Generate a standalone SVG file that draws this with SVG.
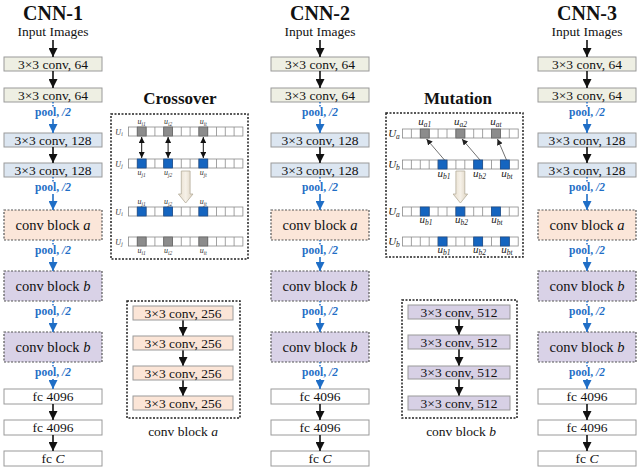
<svg xmlns="http://www.w3.org/2000/svg" width="640" height="468" viewBox="0 0 640 468" font-family="'Liberation Serif','Times New Roman',serif">
<defs>
<style>
text{font-family:"Liberation Serif","Times New Roman",serif;fill:#111}
.title{font-size:20px;font-weight:bold;text-anchor:middle}
.sub{font-size:17px;font-weight:bold;text-anchor:middle}
.lbl{font-size:13.5px;text-anchor:middle}
.blk{font-size:14.5px;text-anchor:middle}
.pool{font-size:11.5px;font-weight:bold;fill:#1f6ec6;text-anchor:middle}
.c64{fill:#eeefe3;stroke:#9a9a9a;stroke-width:1}
.c128{fill:#dce6f1;stroke:#9a9a9a;stroke-width:1}
.fc{fill:#ffffff;stroke:#9a9a9a;stroke-width:1}
.ba{fill:#fbe6d9;stroke:#555;stroke-width:1.2;stroke-dasharray:2 1.5}
.bb{fill:#d9d2e7;stroke:#555;stroke-width:1.2;stroke-dasharray:2 1.5}
.i256{fill:#fbe5d7;stroke:#9a9a9a;stroke-width:1}
.i512{fill:#d7d0e5;stroke:#9a9a9a;stroke-width:1}
.outer{fill:none;stroke:#222;stroke-width:1.5;stroke-dasharray:2 1.5}
.ar{stroke:#111;stroke-width:1.6;fill:none}
.br{stroke:#1f6ec6;stroke-width:1.6;fill:none}
.bd{stroke:#1f6ec6;stroke-width:1.5;stroke-dasharray:1.5 1.5;fill:none}
.cell{fill:#fff;stroke:#8a8a8a;stroke-width:0.8}
.g{fill:#8c8c8c;stroke:#666;stroke-width:0.8}
.b{fill:#1565c0;stroke:#1d4f8f;stroke-width:0.8}
.sm{font-size:8px;font-style:italic;text-anchor:middle;fill:#333}
.mm{font-size:11px;font-style:italic;text-anchor:middle;fill:#222}
.big{fill:url(#gb);stroke:#b5ad9c;stroke-width:0.8}
</style>
<marker id="ah" viewBox="0 0 10 10" refX="10" refY="5" markerWidth="9" markerHeight="9" markerUnits="userSpaceOnUse" orient="auto"><path d="M0,0 L10,5 L0,10 z" fill="#111"/></marker>
<marker id="bh" viewBox="0 0 10 10" refX="10" refY="5" markerWidth="9" markerHeight="9" markerUnits="userSpaceOnUse" orient="auto"><path d="M0,0 L10,5 L0,10 z" fill="#1f6ec6"/></marker>
<marker id="sh" viewBox="0 0 10 10" refX="10" refY="5" markerWidth="6" markerHeight="6" markerUnits="userSpaceOnUse" orient="auto-start-reverse"><path d="M0,0 L10,5 L0,10 z" fill="#111"/></marker>
<marker id="th" viewBox="0 0 10 10" refX="10" refY="5" markerWidth="6" markerHeight="6" markerUnits="userSpaceOnUse" orient="auto"><path d="M0,0 L10,5 L0,10 z" fill="#222"/></marker>
<linearGradient id="gb" x1="0" y1="0" x2="1" y2="0"><stop offset="0" stop-color="#e6dccb"/><stop offset="0.5" stop-color="#f6f1e8"/><stop offset="1" stop-color="#ddd2bf"/></linearGradient>
</defs>

<!-- CNN-1 -->
<g id="cnn1">
<text class="title" x="53" y="20">CNN-1</text>
<text class="lbl" x="53" y="36">Input Images</text>
<g id="cnn1-b1"><rect class="c64" x="4" y="57" width="98" height="14"/><text class="lbl" x="53" y="68.5">3×3 conv, 64</text></g>
<g id="cnn1-b2"><rect class="c64" x="4" y="88" width="98" height="14"/><text class="lbl" x="53" y="99.5">3×3 conv, 64</text></g>
<g id="cnn1-b3"><rect class="c128" x="4" y="133" width="98" height="14"/><text class="lbl" x="53" y="144.5">3×3 conv, 128</text></g>
<g id="cnn1-b4"><rect class="c128" x="4" y="163" width="98" height="14"/><text class="lbl" x="53" y="174.5">3×3 conv, 128</text></g>
<g id="cnn1-b5"><rect class="ba" x="4" y="210" width="98" height="30"/><text class="blk" x="53" y="229.5">conv block <tspan font-style="italic">a</tspan></text></g>
<g id="cnn1-b6"><rect class="bb" x="4" y="271" width="98" height="30"/><text class="blk" x="53" y="290.5">conv block <tspan font-style="italic">b</tspan></text></g>
<g id="cnn1-b7"><rect class="bb" x="4" y="332" width="98" height="30"/><text class="blk" x="53" y="351.5">conv block <tspan font-style="italic">b</tspan></text></g>
<g id="cnn1-b8"><rect class="fc" x="4" y="389" width="98" height="15"/><text class="lbl" x="53" y="400.5">fc 4096</text></g>
<g id="cnn1-b9"><rect class="fc" x="4" y="420" width="98" height="15"/><text class="lbl" x="53" y="431.5">fc 4096</text></g>
<g id="cnn1-b10"><rect class="fc" x="4" y="451" width="98" height="15"/><text class="lbl" x="53" y="462.5">fc <tspan font-style="italic">C</tspan></text></g>
</g>

<!-- CNN-2 -->
<g id="cnn2">
<text class="title" x="320" y="20">CNN-2</text>
<text class="lbl" x="320" y="36">Input Images</text>
<g id="cnn2-b1"><rect class="c64" x="271" y="57" width="98" height="14"/><text class="lbl" x="320" y="68.5">3×3 conv, 64</text></g>
<g id="cnn2-b2"><rect class="c64" x="271" y="88" width="98" height="14"/><text class="lbl" x="320" y="99.5">3×3 conv, 64</text></g>
<g id="cnn2-b3"><rect class="c128" x="271" y="133" width="98" height="14"/><text class="lbl" x="320" y="144.5">3×3 conv, 128</text></g>
<g id="cnn2-b4"><rect class="c128" x="271" y="163" width="98" height="14"/><text class="lbl" x="320" y="174.5">3×3 conv, 128</text></g>
<g id="cnn2-b5"><rect class="ba" x="271" y="210" width="98" height="30"/><text class="blk" x="320" y="229.5">conv block <tspan font-style="italic">a</tspan></text></g>
<g id="cnn2-b6"><rect class="bb" x="271" y="271" width="98" height="30"/><text class="blk" x="320" y="290.5">conv block <tspan font-style="italic">b</tspan></text></g>
<g id="cnn2-b7"><rect class="bb" x="271" y="332" width="98" height="30"/><text class="blk" x="320" y="351.5">conv block <tspan font-style="italic">b</tspan></text></g>
<g id="cnn2-b8"><rect class="fc" x="271" y="389" width="98" height="15"/><text class="lbl" x="320" y="400.5">fc 4096</text></g>
<g id="cnn2-b9"><rect class="fc" x="271" y="420" width="98" height="15"/><text class="lbl" x="320" y="431.5">fc 4096</text></g>
<g id="cnn2-b10"><rect class="fc" x="271" y="451" width="98" height="15"/><text class="lbl" x="320" y="462.5">fc <tspan font-style="italic">C</tspan></text></g>
</g>

<!-- CNN-3 -->
<g id="cnn3">
<text class="title" x="587" y="20">CNN-3</text>
<text class="lbl" x="587" y="36">Input Images</text>
<g id="cnn3-b1"><rect class="c64" x="538" y="57" width="98" height="14"/><text class="lbl" x="587" y="68.5">3×3 conv, 64</text></g>
<g id="cnn3-b2"><rect class="c64" x="538" y="88" width="98" height="14"/><text class="lbl" x="587" y="99.5">3×3 conv, 64</text></g>
<g id="cnn3-b3"><rect class="c128" x="538" y="133" width="98" height="14"/><text class="lbl" x="587" y="144.5">3×3 conv, 128</text></g>
<g id="cnn3-b4"><rect class="c128" x="538" y="163" width="98" height="14"/><text class="lbl" x="587" y="174.5">3×3 conv, 128</text></g>
<g id="cnn3-b5"><rect class="ba" x="538" y="210" width="98" height="30"/><text class="blk" x="587" y="229.5">conv block <tspan font-style="italic">a</tspan></text></g>
<g id="cnn3-b6"><rect class="bb" x="538" y="271" width="98" height="30"/><text class="blk" x="587" y="290.5">conv block <tspan font-style="italic">b</tspan></text></g>
<g id="cnn3-b7"><rect class="bb" x="538" y="332" width="98" height="30"/><text class="blk" x="587" y="351.5">conv block <tspan font-style="italic">b</tspan></text></g>
<g id="cnn3-b8"><rect class="fc" x="538" y="389" width="98" height="15"/><text class="lbl" x="587" y="400.5">fc 4096</text></g>
<g id="cnn3-b9"><rect class="fc" x="538" y="420" width="98" height="15"/><text class="lbl" x="587" y="431.5">fc 4096</text></g>
<g id="cnn3-b10"><rect class="fc" x="538" y="451" width="98" height="15"/><text class="lbl" x="587" y="462.5">fc <tspan font-style="italic">C</tspan></text></g>
</g>

<!-- pool labels -->
<g id="pools">
<text class="pool" x="53" y="116">pool, <tspan font-style="italic">/2</tspan></text>
<text class="pool" x="53" y="191">pool, <tspan font-style="italic">/2</tspan></text>
<text class="pool" x="53" y="254">pool, <tspan font-style="italic">/2</tspan></text>
<text class="pool" x="53" y="315">pool, <tspan font-style="italic">/2</tspan></text>
<text class="pool" x="53" y="376">pool, <tspan font-style="italic">/2</tspan></text>
<text class="pool" x="320" y="116">pool, <tspan font-style="italic">/2</tspan></text>
<text class="pool" x="320" y="191">pool, <tspan font-style="italic">/2</tspan></text>
<text class="pool" x="320" y="254">pool, <tspan font-style="italic">/2</tspan></text>
<text class="pool" x="320" y="315">pool, <tspan font-style="italic">/2</tspan></text>
<text class="pool" x="320" y="376">pool, <tspan font-style="italic">/2</tspan></text>
<text class="pool" x="587" y="116">pool, <tspan font-style="italic">/2</tspan></text>
<text class="pool" x="587" y="191">pool, <tspan font-style="italic">/2</tspan></text>
<text class="pool" x="587" y="254">pool, <tspan font-style="italic">/2</tspan></text>
<text class="pool" x="587" y="315">pool, <tspan font-style="italic">/2</tspan></text>
<text class="pool" x="587" y="376">pool, <tspan font-style="italic">/2</tspan></text>
</g>

<!-- connectors -->
<g id="connectors">
<g id="col1-conn">
<path class="ar" marker-end="url(#ah)" d="M53,40 V57"/>
<path class="ar" marker-end="url(#ah)" d="M53,71 V88"/>
<path class="ar" marker-end="url(#ah)" d="M53,147 V163"/>
<path class="ar" marker-end="url(#ah)" d="M53,404 V420"/>
<path class="ar" marker-end="url(#ah)" d="M53,435 V451"/>
<path class="bd" d="M53,102 V107 M53,177 V182 M53,240 V245 M53,301 V306 M53,362 V367"/>
<path class="br" marker-end="url(#bh)" d="M53,119 V133"/>
<path class="br" marker-end="url(#bh)" d="M53,194 V210"/>
<path class="br" marker-end="url(#bh)" d="M53,257 V271"/>
<path class="br" marker-end="url(#bh)" d="M53,318 V332"/>
<path class="br" marker-end="url(#bh)" d="M53,379 V389"/>
</g>
<g id="col2-conn">
<path class="ar" marker-end="url(#ah)" d="M320,40 V57"/>
<path class="ar" marker-end="url(#ah)" d="M320,71 V88"/>
<path class="ar" marker-end="url(#ah)" d="M320,147 V163"/>
<path class="ar" marker-end="url(#ah)" d="M320,404 V420"/>
<path class="ar" marker-end="url(#ah)" d="M320,435 V451"/>
<path class="bd" d="M320,102 V107 M320,177 V182 M320,240 V245 M320,301 V306 M320,362 V367"/>
<path class="br" marker-end="url(#bh)" d="M320,119 V133"/>
<path class="br" marker-end="url(#bh)" d="M320,194 V210"/>
<path class="br" marker-end="url(#bh)" d="M320,257 V271"/>
<path class="br" marker-end="url(#bh)" d="M320,318 V332"/>
<path class="br" marker-end="url(#bh)" d="M320,379 V389"/>
</g>
<g id="col3-conn">
<path class="ar" marker-end="url(#ah)" d="M587,40 V57"/>
<path class="ar" marker-end="url(#ah)" d="M587,71 V88"/>
<path class="ar" marker-end="url(#ah)" d="M587,147 V163"/>
<path class="ar" marker-end="url(#ah)" d="M587,404 V420"/>
<path class="ar" marker-end="url(#ah)" d="M587,435 V451"/>
<path class="bd" d="M587,102 V107 M587,177 V182 M587,240 V245 M587,301 V306 M587,362 V367"/>
<path class="br" marker-end="url(#bh)" d="M587,119 V133"/>
<path class="br" marker-end="url(#bh)" d="M587,194 V210"/>
<path class="br" marker-end="url(#bh)" d="M587,257 V271"/>
<path class="br" marker-end="url(#bh)" d="M587,318 V332"/>
<path class="br" marker-end="url(#bh)" d="M587,379 V389"/>
</g>
<g id="blocka-conn">
<path class="ar" marker-end="url(#ah)" d="M183,320 V336"/>
<path class="ar" marker-end="url(#ah)" d="M183,350 V366"/>
<path class="ar" marker-end="url(#ah)" d="M183,380 V396"/>
</g>
<g id="blockb-conn">
<path class="ar" marker-end="url(#ah)" d="M459,319 V335"/>
<path class="ar" marker-end="url(#ah)" d="M459,349 V366"/>
<path class="ar" marker-end="url(#ah)" d="M459,379 V396"/>
</g>
</g>

<!-- conv block a detail -->
<g id="blocka">
<rect class="outer" x="127" y="301" width="113" height="117"/>
<g id="blocka-1"><rect class="i256" x="133" y="306" width="100" height="14"/><text class="lbl" x="183" y="317.5">3×3 conv, 256</text></g>
<g id="blocka-2"><rect class="i256" x="133" y="336" width="100" height="14"/><text class="lbl" x="183" y="347.5">3×3 conv, 256</text></g>
<g id="blocka-3"><rect class="i256" x="133" y="366" width="100" height="14"/><text class="lbl" x="183" y="377.5">3×3 conv, 256</text></g>
<g id="blocka-4"><rect class="i256" x="133" y="396" width="100" height="14"/><text class="lbl" x="183" y="407.5">3×3 conv, 256</text></g>
<text class="lbl" x="183" y="436">conv block <tspan font-style="italic">a</tspan></text>
</g>

<!-- conv block b detail -->
<g id="blockb">
<rect class="outer" x="402" y="300" width="115" height="118"/>
<g id="blockb-1"><rect class="i512" x="408" y="305" width="102" height="14"/><text class="lbl" x="459" y="316.5">3×3 conv, 512</text></g>
<g id="blockb-2"><rect class="i512" x="408" y="335" width="102" height="14"/><text class="lbl" x="459" y="346.5">3×3 conv, 512</text></g>
<g id="blockb-3"><rect class="i512" x="408" y="366" width="102" height="13"/><text class="lbl" x="459" y="377">3×3 conv, 512</text></g>
<g id="blockb-4"><rect class="i512" x="408" y="396" width="102" height="14"/><text class="lbl" x="459" y="407.5">3×3 conv, 512</text></g>
<text class="lbl" x="461" y="436">conv block <tspan font-style="italic">b</tspan></text>
</g>

<!-- Crossover -->
<g id="crossover">
<text class="sub" x="180" y="104">Crossover</text>
<rect class="outer" x="111" y="114" width="137" height="145"/>
<g id="cx-row1">
<rect class="cell" x="128.5" y="127" width="114.4" height="9"/>
<path stroke="#8a8a8a" stroke-width="0.8" d="M137.3,127v9M146.1,127v9M154.9,127v9M163.7,127v9M172.5,127v9M181.3,127v9M190.1,127v9M198.9,127v9M207.7,127v9M216.5,127v9M225.3,127v9M234.1,127v9"/>
<rect class="g" x="137.3" y="127" width="8.8" height="9"/><rect class="g" x="163.7" y="127" width="8.8" height="9"/><rect class="g" x="198.9" y="127" width="8.8" height="9"/>
</g>
<g id="cx-row2">
<rect class="cell" x="128.5" y="159" width="114.4" height="9"/>
<path stroke="#8a8a8a" stroke-width="0.8" d="M137.3,159v9M146.1,159v9M154.9,159v9M163.7,159v9M172.5,159v9M181.3,159v9M190.1,159v9M198.9,159v9M207.7,159v9M216.5,159v9M225.3,159v9M234.1,159v9"/>
<rect class="b" x="137.3" y="159" width="8.8" height="9"/><rect class="b" x="163.7" y="159" width="8.8" height="9"/><rect class="b" x="198.9" y="159" width="8.8" height="9"/>
</g>
<g id="cx-row3">
<rect class="cell" x="128.5" y="207" width="114.4" height="9"/>
<path stroke="#8a8a8a" stroke-width="0.8" d="M137.3,207v9M146.1,207v9M154.9,207v9M163.7,207v9M172.5,207v9M181.3,207v9M190.1,207v9M198.9,207v9M207.7,207v9M216.5,207v9M225.3,207v9M234.1,207v9"/>
<rect class="b" x="137.3" y="207" width="8.8" height="9"/><rect class="b" x="163.7" y="207" width="8.8" height="9"/><rect class="b" x="198.9" y="207" width="8.8" height="9"/>
</g>
<g id="cx-row4">
<rect class="cell" x="128.5" y="237" width="114.4" height="9"/>
<path stroke="#8a8a8a" stroke-width="0.8" d="M137.3,237v9M146.1,237v9M154.9,237v9M163.7,237v9M172.5,237v9M181.3,237v9M190.1,237v9M198.9,237v9M207.7,237v9M216.5,237v9M225.3,237v9M234.1,237v9"/>
<rect class="g" x="137.3" y="237" width="8.8" height="9"/><rect class="g" x="163.7" y="237" width="8.8" height="9"/><rect class="g" x="198.9" y="237" width="8.8" height="9"/>
</g>
<text class="sm" x="119" y="134.5">U<tspan font-size="5.5" dy="1.5">i</tspan></text>
<text class="sm" x="119" y="166.5">U<tspan font-size="5.5" dy="1.5">j</tspan></text>
<text class="sm" x="119" y="214.5">U<tspan font-size="5.5" dy="1.5">i</tspan></text>
<text class="sm" x="119" y="244.5">U<tspan font-size="5.5" dy="1.5">j</tspan></text>
<text class="sm" x="141.7" y="124">u<tspan font-size="5.5" dy="1.5">i1</tspan></text>
<text class="sm" x="168.1" y="124">u<tspan font-size="5.5" dy="1.5">i2</tspan></text>
<text class="sm" x="203.3" y="124">u<tspan font-size="5.5" dy="1.5">it</tspan></text>
<text class="sm" x="141.7" y="175">u<tspan font-size="5.5" dy="1.5">j1</tspan></text>
<text class="sm" x="168.1" y="175">u<tspan font-size="5.5" dy="1.5">j2</tspan></text>
<text class="sm" x="203.3" y="175">u<tspan font-size="5.5" dy="1.5">jt</tspan></text>
<text class="sm" x="141.7" y="204">u<tspan font-size="5.5" dy="1.5">j1</tspan></text>
<text class="sm" x="168.1" y="204">u<tspan font-size="5.5" dy="1.5">j2</tspan></text>
<text class="sm" x="203.3" y="204">u<tspan font-size="5.5" dy="1.5">jt</tspan></text>
<text class="sm" x="141.7" y="253">u<tspan font-size="5.5" dy="1.5">i1</tspan></text>
<text class="sm" x="168.1" y="253">u<tspan font-size="5.5" dy="1.5">i2</tspan></text>
<text class="sm" x="203.3" y="253">u<tspan font-size="5.5" dy="1.5">it</tspan></text>
<path class="big" d="M181.3,171 H190.1 V194 H193 L185.7,203 L178.4,194 H181.3 Z"/>
</g>
<g id="crossover-arrows">
<path stroke="#111" stroke-width="1" marker-start="url(#sh)" marker-end="url(#sh)" d="M141.7,137 V158"/>
<path stroke="#111" stroke-width="1" marker-start="url(#sh)" marker-end="url(#sh)" d="M168.1,137 V158"/>
<path stroke="#111" stroke-width="1" marker-start="url(#sh)" marker-end="url(#sh)" d="M203.3,137 V158"/>
</g>

<!-- Mutation -->
<g id="mutation">
<text class="sub" x="458" y="104">Mutation</text>
<rect class="outer" x="386" y="113" width="137" height="144"/>
<g id="mu-row1">
<rect class="cell" x="402.5" y="129" width="115.7" height="9"/>
<path stroke="#8a8a8a" stroke-width="0.8" d="M411.4,129v9M420.3,129v9M429.2,129v9M438.1,129v9M447,129v9M455.9,129v9M464.8,129v9M473.7,129v9M482.6,129v9M491.5,129v9M500.4,129v9M509.3,129v9"/>
<rect class="g" x="420.3" y="129" width="8.9" height="9"/><rect class="g" x="455.9" y="129" width="8.9" height="9"/><rect class="g" x="491.5" y="129" width="8.9" height="9"/>
</g>
<g id="mu-row2">
<rect class="cell" x="402.5" y="160" width="115.7" height="9"/>
<path stroke="#8a8a8a" stroke-width="0.8" d="M411.4,160v9M420.3,160v9M429.2,160v9M438.1,160v9M447,160v9M455.9,160v9M464.8,160v9M473.7,160v9M482.6,160v9M491.5,160v9M500.4,160v9M509.3,160v9"/>
<rect class="b" x="438.1" y="160" width="8.9" height="9"/><rect class="b" x="473.7" y="160" width="8.9" height="9"/><rect class="b" x="500.4" y="160" width="8.9" height="9"/>
</g>
<g id="mu-row3">
<rect class="cell" x="402.5" y="207" width="115.7" height="9"/>
<path stroke="#8a8a8a" stroke-width="0.8" d="M411.4,207v9M420.3,207v9M429.2,207v9M438.1,207v9M447,207v9M455.9,207v9M464.8,207v9M473.7,207v9M482.6,207v9M491.5,207v9M500.4,207v9M509.3,207v9"/>
<rect class="b" x="420.3" y="207" width="8.9" height="9"/><rect class="b" x="455.9" y="207" width="8.9" height="9"/><rect class="b" x="491.5" y="207" width="8.9" height="9"/>
</g>
<g id="mu-row4">
<rect class="cell" x="402.5" y="237" width="115.7" height="9"/>
<path stroke="#8a8a8a" stroke-width="0.8" d="M411.4,237v9M420.3,237v9M429.2,237v9M438.1,237v9M447,237v9M455.9,237v9M464.8,237v9M473.7,237v9M482.6,237v9M491.5,237v9M500.4,237v9M509.3,237v9"/>
<rect class="b" x="438.1" y="237" width="8.9" height="9"/><rect class="b" x="473.7" y="237" width="8.9" height="9"/><rect class="b" x="500.4" y="237" width="8.9" height="9"/>
</g>
<text class="mm" x="394" y="137">U<tspan font-size="7.5" dy="2">a</tspan></text>
<text class="mm" x="394" y="168">U<tspan font-size="7.5" dy="2">b</tspan></text>
<text class="mm" x="394" y="215">U<tspan font-size="7.5" dy="2">a</tspan></text>
<text class="mm" x="394" y="245">U<tspan font-size="7.5" dy="2">b</tspan></text>
<text class="mm" x="424.7" y="125">u<tspan font-size="7.5" dy="2">a1</tspan></text>
<text class="mm" x="460.4" y="125">u<tspan font-size="7.5" dy="2">a2</tspan></text>
<text class="mm" x="496" y="125">u<tspan font-size="7.5" dy="2">at</tspan></text>
<text class="mm" x="444" y="177">u<tspan font-size="7.5" dy="2">b1</tspan></text>
<text class="mm" x="479.5" y="177">u<tspan font-size="7.5" dy="2">b2</tspan></text>
<text class="mm" x="507" y="177">u<tspan font-size="7.5" dy="2">bt</tspan></text>
<text class="mm" x="426" y="223">u<tspan font-size="7.5" dy="2">b1</tspan></text>
<text class="mm" x="461.5" y="223">u<tspan font-size="7.5" dy="2">b2</tspan></text>
<text class="mm" x="497" y="223">u<tspan font-size="7.5" dy="2">bt</tspan></text>
<text class="mm" x="444" y="253">u<tspan font-size="7.5" dy="2">b1</tspan></text>
<text class="mm" x="479.5" y="253">u<tspan font-size="7.5" dy="2">b2</tspan></text>
<text class="mm" x="507" y="253">u<tspan font-size="7.5" dy="2">bt</tspan></text>
<path class="big" d="M455.9,171 H464.8 V194 H467.7 L460.4,203 L453.1,194 H455.9 Z"/>
</g>
<g id="mutation-arrows">
<path stroke="#333" stroke-width="0.7" marker-end="url(#th)" d="M444.5,160 L426.5,139"/>
<path stroke="#333" stroke-width="0.7" marker-end="url(#th)" d="M480,160 L462,139"/>
<path stroke="#333" stroke-width="0.7" marker-end="url(#th)" d="M506.5,160 L497.5,139"/>
</g>
</svg>
